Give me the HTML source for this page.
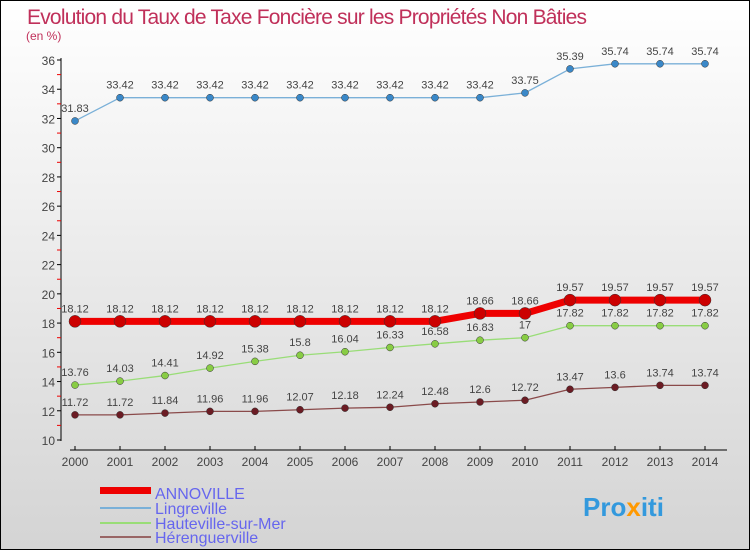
<!DOCTYPE html>
<html><head><meta charset="utf-8"><style>
body{margin:0;width:750px;height:550px;overflow:hidden;font-family:"Liberation Sans",sans-serif}
svg{display:block}
</style></head><body>
<svg id="c" width="750" height="550" xmlns="http://www.w3.org/2000/svg">
<defs><linearGradient id="bg" x1="0" y1="0" x2="0" y2="1"><stop offset="0" stop-color="#ffffff"/><stop offset="1" stop-color="#d4d4d4"/></linearGradient></defs>
<rect x="0.5" y="0.5" width="749" height="549" fill="url(#bg)" stroke="#000"/>
<text x="27" y="24" font-size="21" fill="#c0305a" textLength="560">Evolution du Taux de Taxe Foncière sur les Propriétés Non Bâties</text>
<text x="26" y="40" font-size="12" fill="#c0305a">(en %)</text>
<g id="axes"></g><g id="series"></g>
<g>
<rect x="100" y="487" width="51" height="7" fill="#e00"/>
<text x="155" y="499" font-size="16" fill="#6666ee">ANNOVILLE</text>
<rect x="100" y="507" width="51" height="2" fill="#7ab0d8"/>
<text x="155" y="514" font-size="16" fill="#6666ee">Lingreville</text>
<rect x="100" y="522" width="51" height="2" fill="#99dd77"/>
<text x="155" y="529" font-size="16" fill="#6666ee">Hauteville-sur-Mer</text>
<rect x="100" y="536" width="51" height="2" fill="#996666"/>
<text x="155" y="543" font-size="16" fill="#6666ee">Hérenguerville</text>
</g>
<text x="583" y="516" font-size="26" font-weight="bold" fill="#3399dd">Pro<tspan fill="#ff9900">x</tspan>iti</text>
</svg>
<script>
const years=[2000,2001,2002,2003,2004,2005,2006,2007,2008,2009,2010,2011,2012,2013,2014];
const annoville=[18.12,18.12,18.12,18.12,18.12,18.12,18.12,18.12,18.12,18.66,18.66,19.57,19.57,19.57,19.57];
const lingreville=[31.83,33.42,33.42,33.42,33.42,33.42,33.42,33.42,33.42,33.42,33.75,35.39,35.74,35.74,35.74];
const hauteville=[13.76,14.03,14.41,14.92,15.38,15.8,16.04,16.33,16.58,16.83,17,17.82,17.82,17.82,17.82];
const herenguerville=[11.72,11.72,11.84,11.96,11.96,12.07,12.18,12.24,12.48,12.6,12.72,13.47,13.6,13.74,13.74];
const yTicks=[10,12,14,16,18,20,22,24,26,28,30,32,34,36];
const NS="http://www.w3.org/2000/svg";
const xs=i=>75+i*45;
const ys=v=>440-(v-10)*380/26;
function mk(t,a,p){const e=document.createElementNS(NS,t);for(const k in a)e.setAttribute(k,a[k]);p.appendChild(e);return e;}
const ax=document.getElementById('axes');
let l=mk('line',{x1:61,y1:58,x2:61,y2:441,stroke:'#000'},ax);


yTicks.forEach(v=>{
 mk('line',{x1:57,x2:61,y1:ys(v),y2:ys(v),stroke:'#000'},ax);
 mk('line',{x1:57,x2:61,y1:ys(v+1),y2:ys(v+1),stroke:'#e00'},ax).setAttribute('visibility',v<36?'visible':'hidden');
 const t=mk('text',{x:55,y:ys(v)+5,'font-size':12,fill:'#444','text-anchor':'end'},ax);t.textContent=v;
 
 
});
l=mk('line',{x1:70,y1:450,x2:727,y2:450,stroke:'#000'},ax);


years.forEach((y,i)=>{
 mk('line',{x1:xs(i),x2:xs(i),y1:446,y2:450,stroke:'#000'},ax);
 const t=mk('text',{x:xs(i),y:466,'font-size':12,fill:'#444','text-anchor':'middle'},ax);t.textContent=y;
 
 
});
const sg=document.getElementById('series');
function series(name,data,color,dot,w,r){
 const g=mk('g',{},sg);
 
 
 const pl=mk('polyline',{points:data.map((v,i)=>xs(i)+','+ys(v)).join(' '),fill:'none',stroke:color,'stroke-width':w,'stroke-linejoin':'round'},g);
 
 
 data.forEach((v,i)=>{
  const c=mk('circle',{cx:xs(i),cy:ys(v),r:r,fill:dot,stroke:'#333','stroke-width':0.5},g);
  
  
  const t=mk('text',{x:xs(i),y:ys(v)-9,'font-size':11,fill:'#444','text-anchor':'middle'},g);t.textContent=v;
  
  
 });
}
series('herenguerville',herenguerville,'#8a4a4a','#6b1c24',1.3,3.5);
series('hauteville',hauteville,'#99dd77','#88cc44',1.3,3.5);
series('lingreville',lingreville,'#7ab0d8','#3a88c8',1.3,3.5);
series('annoville',annoville,'#ee0000','#cc0000',7,6);
</script>
</body></html>
